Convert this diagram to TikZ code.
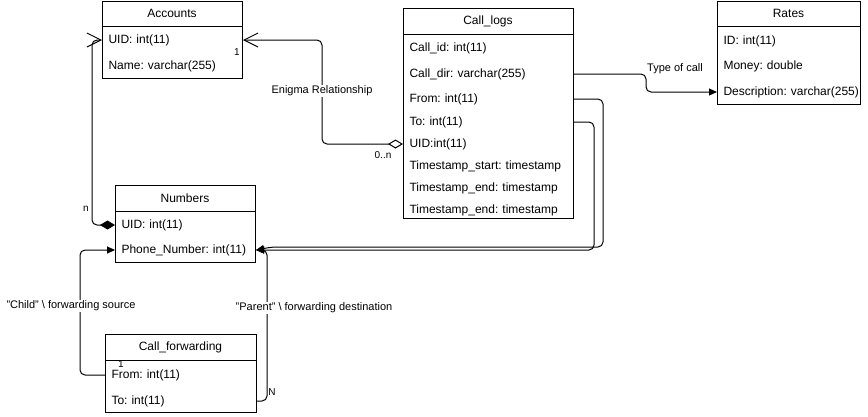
\documentclass[tikz,border=0pt]{standalone}
\usepackage{fontspec}
\setmainfont{Liberation Sans}
\usetikzlibrary{arrows.meta,calc}
\frenchspacing
\begin{document}
\begin{tikzpicture}[x=1pt,y=-1pt, line width=1pt,
  tbl/.style={draw, line width=1pt, rectangle, anchor=north west, inner sep=0pt},
  ttl/.style={font=\fontsize{12}{14}\selectfont, inner sep=0pt},
  fld/.style={anchor=west, inner xsep=6pt, inner ysep=0pt, align=left, font=\fontsize{12}{14}\selectfont\frenchspacing, text width=#1},
  conn/.style={draw, line width=1pt, rounded corners=5pt},
  lbl/.style={font=\fontsize{11}{13}\selectfont\frenchspacing, fill=white, inner sep=1pt},
  mult/.style={font=\fontsize{10}{12}\selectfont, inner sep=0pt},
  fil/.style={-{Triangle[length=8pt,width=7pt]}},
]
\useasboundingbox (0,0) rectangle (868,416);

% Accounts
\node[tbl, minimum width=140pt, minimum height=77.5pt] (accbox) at (102,0.5) {};
\draw (102,26) -- (242,26);
\node[ttl] (acc) at (172,13) {Accounts};
\node[fld=128pt] (acc-uid) at (102,40) {UID: int(11)};
\node[fld=128pt] (acc-name) at (102,66) {Name: varchar(255)};

% Call_logs
\node[tbl, minimum width=170pt, minimum height=210pt] (clbox) at (403,8) {};
\draw (403,34) -- (573,34);
\node[ttl] (cl) at (488,21) {Call\_logs};
\node[fld=158pt] (cl-id) at (403,48) {Call\_id: int(11)};
\node[fld=158pt] (cl-dir) at (403,74) {Call\_dir: varchar(255)};
\node[fld=158pt] (cl-from) at (403,99) {From: int(11)};
\node[fld=158pt] (cl-to) at (403,122) {To: int(11)};
\node[fld=158pt] (cl-uid) at (403,144) {UID:int(11)};
\node[fld=158pt] (cl-ts) at (403,166) {Timestamp\_start: timestamp};
\node[fld=158pt] (cl-te1) at (403,188) {Timestamp\_end: timestamp};
\node[fld=158pt] (cl-te2) at (403,210) {Timestamp\_end: timestamp};

% Rates
\node[tbl, minimum width=143pt, minimum height=103pt] (rbox) at (717,1) {};
\draw (717,26) -- (860,26);
\node[ttl] (rates) at (788.5,13) {Rates};
\node[fld=140pt] (r-id) at (717,41) {ID: int(11)};
\node[fld=140pt] (r-money) at (717,66) {Money: double};
\node[fld=140pt] (r-desc) at (717,92) {Description: varchar(255)};

% Numbers
\node[tbl, minimum width=140pt, minimum height=77pt] (nbox) at (115,185) {};
\draw (115,211) -- (255,211);
\node[ttl] (num) at (185,198) {Numbers};
\node[fld=128pt] (num-uid) at (115,225) {UID: int(11)};
\node[fld=128pt] (num-phone) at (115,250) {Phone\_Number: int(11)};

% Call_forwarding
\node[tbl, minimum width=151pt, minimum height=78pt] (cfbox) at (105,334) {};
\draw (105,360) -- (256,360);
\node[ttl] (cf) at (180.5,347) {Call\_forwarding};
\node[fld=139pt] (cf-from) at (105,375) {From: int(11)};
\node[fld=139pt] (cf-to) at (105,401) {To: int(11)};

% connectors
\draw[conn, {Diamond[length=15pt,width=9pt]}-{Straight Barb[length=14pt,width=14pt]}]
  (num-uid.west) -- ++(-23,0) |- (acc-uid.west);
\draw[conn, {Diamond[open,length=15pt,width=9pt]}-{Straight Barb[length=14pt,width=14pt]}]
  (cl-uid.west) -- ++(-81,0) |- (acc-uid.east);
\draw[conn, fil] (cl-dir.east) -- ++(72,0) |- (r-desc.west);
\draw[conn, fil] (cl-from.east) -- ++(29,0) |- ($(num-phone.east)+(16,-3)$) -- (num-phone.east);
\draw[conn, fil] (cl-to.east) -- ++(20,0) |- (num-phone.east);
\draw[conn, fil] (cf-from.west) -- ++(-25,0) |- (num-phone.west);
\draw[conn, fil] (cf-to.east) -- ++(10,0) |- (num-phone.east);

% labels
\node[lbl] (l-enigma) at (322,91) {Enigma Relationship};
\node[lbl] (l-type) at (675,69) {Type of call};
\node[lbl] (l-child) at (71,306) {"Child" \textbackslash{} forwarding source};
\node[lbl] (l-parent) at (314,308) {"Parent" \textbackslash{} forwarding destination};
\node[mult] (m-1a) at (237,52) {1};
\node[mult] (m-0n) at (383,155) {0..n};
\node[mult] (m-n) at (86,209) {n};
\node[mult] (m-1b) at (121,364) {1};
\node[mult] (m-N) at (272,392) {N};
\end{tikzpicture}
\end{document}
